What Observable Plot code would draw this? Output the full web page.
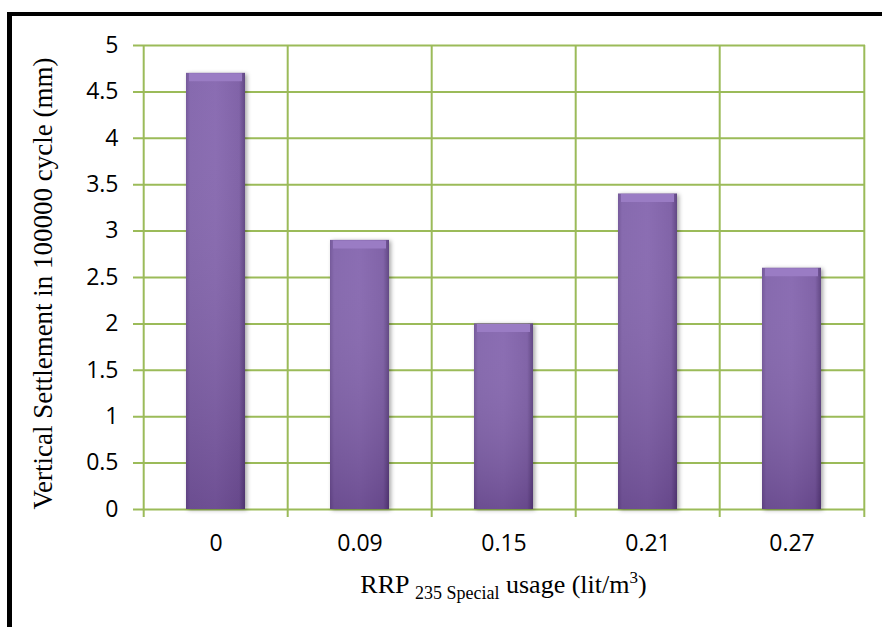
<!DOCTYPE html>
<html>
<head>
<meta charset="utf-8">
<script src="https://cdn.jsdelivr.net/npm/d3@7"></script>
<script src="https://cdn.jsdelivr.net/npm/@observablehq/plot@0.6"></script>
<style>
  html, body { margin: 0; padding: 0; background: #fff; overflow: hidden; }
  #wrap { position: relative; width: 882px; height: 627px; }
  #border { position: absolute; left: 7px; top: 12px; width: 900px; height: 700px;
            border-top: 4px solid #000; border-left: 5px solid #000; pointer-events: none; }
</style>
</head>
<body>
<div id="wrap"><div id="chart"></div><div id="border"></div></div>
<script>
// RRP 235 Special dosage (lit/m³) and the resulting settlement after 100000 cycles
const usage = ["0", "0.09", "0.15", "0.21", "0.27"];
const settlement = [4.7, 2.9, 2.0, 3.4, 2.6];
const yTicks = [0, 0.5, 1, 1.5, 2, 2.5, 3, 3.5, 4, 4.5, 5];
const yTitle = "Vertical Settlement in 100000 cycle (mm)";

const data = usage.map((u, i) => ({usage: u, settlement: settlement[i]}));

const W = 882, H = 627, mL = 142, mR = 17, mT = 45, mB = 118;
const step = (W - mL - mR) / usage.length;
const grid = "#9BBB59";
const serif = "'Liberation Serif', 'Times New Roman', serif";

const chart = Plot.plot({
  width: W, height: H,
  marginLeft: mL, marginRight: mR, marginTop: mT, marginBottom: mB,
  style: {fontFamily: "'Open Sans', sans-serif", fontSize: "23px", color: "#000", background: "#fff"},
  x: {domain: usage, paddingInner: 0.59, paddingOuter: 0.295, label: null},
  y: {domain: [0, 5], label: null},
  marks: [
    Plot.ruleY(yTicks, {stroke: grid, strokeWidth: 2, insetLeft: -9}),
    Plot.ruleX(usage, {x: d => d, dx: -step / 2, stroke: grid, strokeWidth: 2, insetBottom: -8}),
    Plot.ruleX(usage.slice(-1), {x: d => d, dx: step / 2, stroke: grid, strokeWidth: 2, insetBottom: -8}),
    Plot.barY(data, {x: "usage", y: "settlement", fill: "url(#barBase)"}),
    Plot.barY(data, {x: "usage", y: "settlement", fill: "url(#barShade)"}),
    Plot.tickY(data, {x: "usage", y: "settlement", stroke: "#9a7cc4", strokeWidth: 8, dy: 4, inset: 3}),
    Plot.axisX({tickSize: 0, tickPadding: 25}),
    Plot.axisY({ticks: yTicks, tickSize: 0, tickPadding: 24, tickFormat: d => String(d)}),
    Plot.text([yTitle], {frameAnchor: "left", dx: -99, dy: 6, rotate: -90, textAnchor: "middle",
                         fontFamily: serif, fontSize: 27, fill: "#000"})
  ]
});

const svg = d3.select(chart);
const defs = svg.insert("defs", ":first-child");

const base = defs.append("linearGradient").attr("id", "barBase")
  .attr("x1", 0).attr("x2", 1).attr("y1", 0).attr("y2", 0);
[["0%", "#6f5296"], ["7%", "#8163ab"], ["50%", "#8566af"], ["90%", "#7b5ca4"], ["100%", "#5a3f7e"]]
  .forEach(([o, c]) => base.append("stop").attr("offset", o).attr("stop-color", c));

const shade = defs.append("linearGradient").attr("id", "barShade")
  .attr("x1", 0).attr("x2", 0).attr("y1", 0).attr("y2", 1);
[["0%", "#ffffff", 0.04], ["100%", "#1e0032", 0.22]]
  .forEach(([o, c, a]) => shade.append("stop").attr("offset", o).attr("stop-color", c).attr("stop-opacity", a));

svg.select('g[aria-label="bar"]').style("filter", "drop-shadow(2px 1px 2px rgba(0,0,0,0.35))");

// x-axis title with subscript and superscript parts
const xt = svg.append("text")
  .attr("x", (mL + W - mR) / 2).attr("y", 593)
  .attr("text-anchor", "middle")
  .attr("font-family", serif).attr("font-size", 26).attr("fill", "#000");
xt.append("tspan").text("RRP ");
xt.append("tspan").attr("font-size", 18).attr("dy", 6).text("235 Special");
xt.append("tspan").attr("dy", -6).text(" usage (lit/m");
xt.append("tspan").attr("font-size", 17).attr("dy", -10).text("3");
xt.append("tspan").attr("dy", 10).text(")");

document.getElementById("chart").appendChild(chart);
</script>
</body>
</html>
